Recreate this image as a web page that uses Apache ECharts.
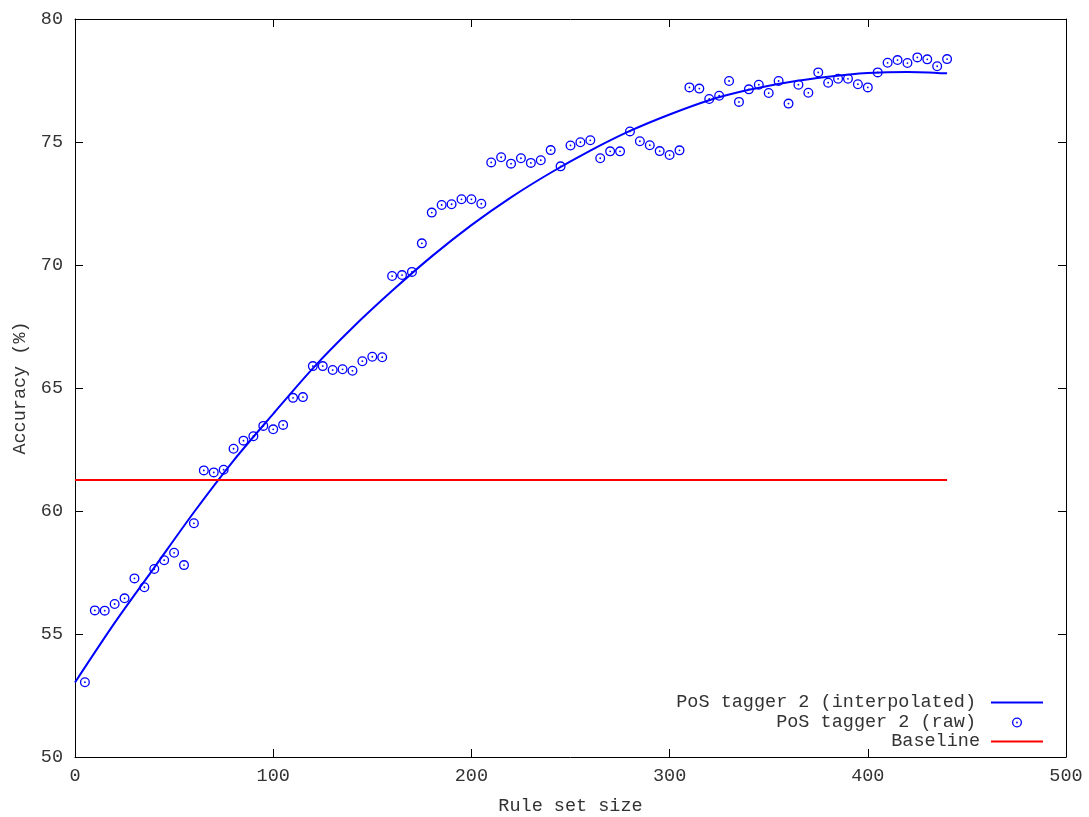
<!DOCTYPE html>
<html>
<head>
<meta charset="utf-8">
<script src="https://cdn.jsdelivr.net/npm/echarts@6/dist/echarts.min.js"></script>
<style>
  html, body { margin: 0; padding: 0; background: #fff; }
  #chart { width: 1089px; height: 817px; }
</style>
</head>
<body>
<div id="chart"></div>
<script>
// raw measurements, one every 5 rules
const rawSizes = [
  5, 10, 15, 20, 25, 30, 35, 40, 45, 50, 55, 60, 65, 70, 75, 80, 85, 90, 95, 100,
  105, 110, 115, 120, 125, 130, 135, 140, 145, 150, 155, 160, 165, 170, 175, 180, 185, 190, 195, 200,
  205, 210, 215, 220, 225, 230, 235, 240, 245, 250, 255, 260, 265, 270, 275, 280, 285, 290, 295, 300,
  305, 310, 315, 320, 325, 330, 335, 340, 345, 350, 355, 360, 365, 370, 375, 380, 385, 390, 395, 400,
  405, 410, 415, 420, 425, 430, 435, 440
];
const rawAccuracy = [
  53.04, 55.96, 55.95, 56.22, 56.45, 57.26, 56.90, 57.64, 58.00, 58.30, 57.80, 59.50, 61.65, 61.57, 61.68, 62.53, 62.86, 63.04, 63.46, 63.32,
  63.50, 64.60, 64.63, 65.89, 65.89, 65.73, 65.76, 65.70, 66.09, 66.27, 66.25, 69.55, 69.59, 69.72, 70.88, 72.13, 72.44, 72.47, 72.67, 72.67,
  72.49, 74.17, 74.38, 74.12, 74.34, 74.15, 74.26, 74.67, 74.01, 74.86, 74.99, 75.07, 74.34, 74.62, 74.62, 75.43, 75.03, 74.87, 74.63, 74.47,
  74.66, 77.22, 77.17, 76.75, 76.88, 77.48, 76.63, 77.14, 77.33, 76.99, 77.48, 76.56, 77.33, 77.00, 77.83, 77.41, 77.57, 77.57, 77.35, 77.22,
  77.83, 78.22, 78.33, 78.21, 78.44, 78.36, 78.08, 78.37
];

// interpolated curve, every 20 rules
const fitSizes = [0, 20, 40, 60, 80, 100, 120, 140, 160, 180, 200, 220, 240, 260, 280, 300, 320, 340, 360, 380, 400, 420, 440];
const fitAccuracy = [53.03, 55.45, 57.7, 59.95, 62.05, 63.95, 65.8, 67.45, 68.95, 70.35, 71.62, 72.75, 73.75, 74.65, 75.45, 76.12, 76.7, 77.12, 77.43, 77.65, 77.8, 77.85, 77.79];

const baselineSizes = [0, 440];
const baselineAccuracy = 61.26;

const xTicks = [0, 100, 200, 300, 400, 500];
const yTicks = [50, 55, 60, 65, 70, 75, 80];

const FONT = '"Liberation Mono", "DejaVu Sans Mono", monospace';
const TEXT = '#333';

// circle with a dot in the middle (gnuplot point type 6-ish)
const ringDot = 'path://M0,50 A50,50 0 1,1 100,50 A50,50 0 1,1 0,50 Z ' +
  'M13,50 A37,37 0 1,0 87,50 A37,37 0 1,0 13,50 Z ' +
  'M41,50 A9,9 0 1,1 59,50 A9,9 0 1,1 41,50 Z';

const chart = echarts.init(document.getElementById('chart'), null, { renderer: 'canvas' });

const tickStyle = { show: true, inside: true, length: 8, lineStyle: { color: '#000', width: 1 } };

function legendItem(name, icon, top, right, w, h, pad) {
  return {
    data: [{ name: name, icon: icon }],
    top: top,
    right: right,
    orient: 'vertical',
    align: 'right',
    itemWidth: w,
    itemHeight: h,
    padding: 0,
    selectedMode: false,
    textStyle: { fontFamily: FONT, fontSize: 18.5, color: TEXT, padding: [0, pad, 0, 0] }
  };
}

const option = {
  animation: false,
  backgroundColor: '#fff',
  grid: { left: 75, right: 23, top: 19, bottom: 60, containLabel: false, outerBoundsMode: 'none' },
  legend: [
    legendItem('PoS tagger 2 (interpolated)', 'rect', 693, 46, 52, 2, 10),
    legendItem('PoS tagger 2 (raw)', ringDot, 713, 67, 10, 10, 31),
    legendItem('Baseline', 'rect', 732, 46, 52, 2, 6)
  ],
  xAxis: [
    {
      type: 'value', min: 0, max: 500, interval: 100, position: 'bottom',
      name: 'Rule set size', nameLocation: 'middle', nameGap: 40,
      nameTextStyle: { fontFamily: FONT, fontSize: 18.5, color: TEXT },
      axisLine: { show: true, lineStyle: { color: '#000', width: 1 } },
      axisTick: tickStyle,
      axisLabel: {
        margin: 10, fontFamily: FONT, fontSize: 18.5, color: TEXT,
        formatter: v => xTicks.includes(v) ? String(v) : ''
      },
      splitLine: { show: false }
    },
    {
      type: 'value', min: 0, max: 500, interval: 100, position: 'top',
      axisLine: { show: true, onZero: false, lineStyle: { color: '#000', width: 1 } },
      axisTick: tickStyle, axisLabel: { show: false }, splitLine: { show: false }
    }
  ],
  yAxis: [
    {
      type: 'value', min: 50, max: 80, interval: 5, position: 'left',
      name: 'Accuracy (%)', nameLocation: 'middle', nameGap: 42,
      nameTextStyle: { fontFamily: FONT, fontSize: 18.5, color: TEXT },
      axisLine: { show: true, lineStyle: { color: '#000', width: 1 } },
      axisTick: tickStyle,
      axisLabel: {
        margin: 12, fontFamily: FONT, fontSize: 18.5, color: TEXT,
        formatter: v => yTicks.includes(v) ? String(v) : ''
      },
      splitLine: { show: false }
    },
    {
      type: 'value', min: 50, max: 80, interval: 5, position: 'right',
      axisLine: { show: true, onZero: false, lineStyle: { color: '#000', width: 1 } },
      axisTick: tickStyle, axisLabel: { show: false }, splitLine: { show: false }
    }
  ],
  series: [
    {
      name: 'PoS tagger 2 (interpolated)',
      type: 'line',
      smooth: 0.3,
      symbol: 'none',
      data: fitSizes.map((x, i) => [x, fitAccuracy[i]]),
      lineStyle: { color: '#0000ff', width: 2 },
      itemStyle: { color: '#0000ff' },
      z: 2
    },
    {
      name: 'PoS tagger 2 (raw)',
      type: 'scatter',
      symbol: ringDot,
      symbolSize: 10,
      symbolKeepAspect: true,
      data: rawSizes.map((x, i) => [x, rawAccuracy[i]]),
      itemStyle: { color: '#0000ff', opacity: 1 },
      z: 3
    },
    {
      name: 'Baseline',
      type: 'line',
      symbol: 'none',
      data: baselineSizes.map(x => [x, baselineAccuracy]),
      lineStyle: { color: '#ff0000', width: 2 },
      itemStyle: { color: '#ff0000' },
      z: 4
    }
  ]
};

chart.setOption(option);
</script>
</body>
</html>
